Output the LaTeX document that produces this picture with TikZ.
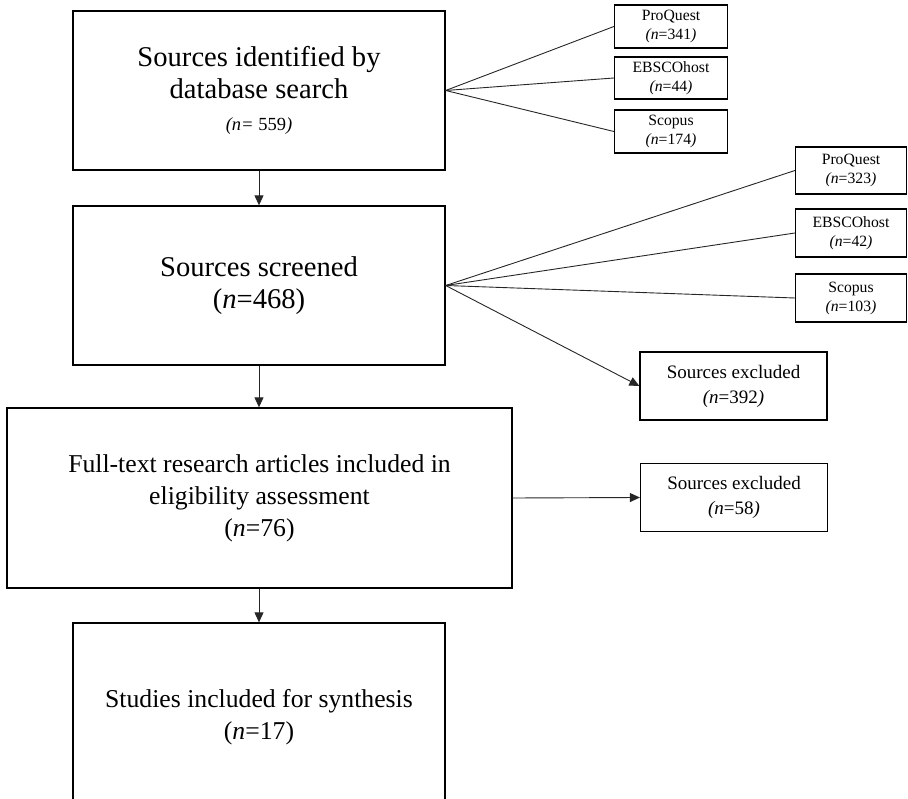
\documentclass[tikz,border=0pt]{standalone}
\usepackage{fontspec}
\setmainfont{Liberation Serif}
\usetikzlibrary{arrows.meta}
\tikzset{
  mainbox/.style={draw, line width=1.3pt, inner sep=0pt, align=center},
  bigtext/.style={font=\fontsize{28.6}{32}\selectfont},
  midtext/.style={font=\fontsize{25.7}{32}\selectfont},
  dbbox/.style={draw, line width=1.2pt, inner sep=0pt, align=center,
     minimum width=113pt, font=\fontsize{15.7}{19}\selectfont},
  exbox/.style={draw, line width=1.2pt, inner sep=0pt, align=center,
     minimum width=187pt, minimum height=68pt, font=\fontsize{19}{25}\selectfont},
  conn/.style={line width=0.9pt, draw=black!85},
  arr/.style={conn, -{Triangle[length=10pt, width=9pt]}}
}
\begin{document}
\begin{tikzpicture}[x=1pt, y=-1pt]
\clip (0,0) rectangle (908,799);
% main column
\node[mainbox, bigtext, minimum width=372pt, minimum height=159pt] (ident) at (259,90.5)
  {Sources identified by\\database search\\{\fontsize{18.5}{22}\selectfont\textit{(n=} 559\textit{)}}};
\node[mainbox, bigtext, minimum width=372pt, minimum height=159pt] (screen) at (259,285.5)
  {Sources screened\\(\textit{n}=468)};
\node[mainbox, midtext, minimum width=505pt, minimum height=180pt] (full) at (259.5,498)
  {Full-text research articles included in\\eligibility assessment\\(\textit{n}=76)};
\node[mainbox, midtext, minimum width=372pt, minimum height=188pt] (synth) at (259,717)
  {Studies included for synthesis\\(\textit{n}=17)};
% first database group
\node[dbbox, minimum height=43pt] (pq1) at (671,26.5) {ProQuest\\\textit{(n}=341\textit{)}};
\node[dbbox, minimum height=42pt] (eb1) at (671,78) {EBSCOhost\\\textit{(n}=44\textit{)}};
\node[dbbox, minimum height=43pt] (sc1) at (671,131.5) {Scopus\\\textit{(n}=174\textit{)}};
% second database group
\node[dbbox, minimum width=111pt, minimum height=47pt] (pq2) at (851,170.5) {ProQuest\\\textit{(n}=323\textit{)}};
\node[dbbox, minimum width=111pt, minimum height=48pt] (eb2) at (851,233) {EBSCOhost\\\textit{(n}=42\textit{)}};
\node[dbbox, minimum width=111pt, minimum height=48pt] (sc2) at (851,298) {Scopus\\\textit{(n}=103\textit{)}};
% excluded
\node[exbox] (ex1) at (733.5,386) {Sources excluded\\\textit{(n}=392\textit{)}};
\node[exbox] (ex2) at (734,497.5) {Sources excluded\\\textit{(n}=58\textit{)}};
% connectors
\draw[arr] (ident.south) -- (screen.north);
\draw[arr] (screen.south) -- (screen.south |- full.north);
\draw[arr] (synth.north |- full.south) -- (synth.north);
\draw[conn] (ident.east) -- (pq1.west);
\draw[conn] (ident.east) -- (eb1.west);
\draw[conn] (ident.east) -- (sc1.west);
\draw[conn] (screen.east) -- (pq2.west);
\draw[conn] (screen.east) -- (eb2.west);
\draw[conn] (screen.east) -- (sc2.west);
\draw[arr] (screen.east) -- (ex1.west);
\draw[arr] (full.east) -- (ex2.west);
\end{tikzpicture}
\end{document}
